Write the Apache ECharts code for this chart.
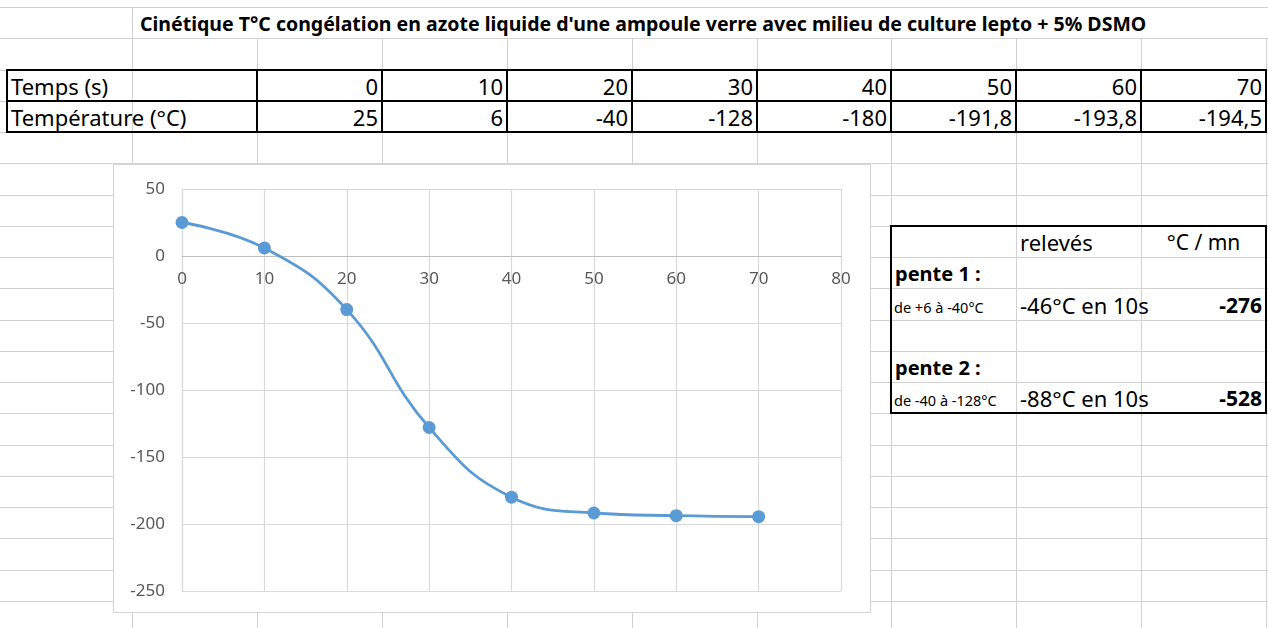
<!DOCTYPE html>
<html>
<head>
<meta charset="utf-8" />
<title>Cinétique T°C congélation</title>
<script src="https://cdn.jsdelivr.net/npm/echarts/dist/echarts.min.js"></script>
<style>
  body { margin: 0; background: #fff; font-family: 'Noto Sans', sans-serif; }
  #sheet { position: relative; width: 1268px; height: 628px; overflow: hidden; }
  .g { position: absolute; background: #d2d2d2; }
  .b { position: absolute; background: #000; }
  .c { position: absolute; display: flex; align-items: flex-end; box-sizing: border-box;
       padding: 0 4px 4px 4px; white-space: nowrap; color: #000; font-size: 22px; line-height: 1; }
  #main { position: absolute; left: 113px; top: 164px; width: 758px; height: 449px;
          box-sizing: border-box; border: 1px solid #d4d4d4; background: #fff; }
</style>
</head>
<body>
<div id="sheet">
  <div id="main"></div>
</div>
<script type="text/javascript">
// données du tableau
var titre = "Cinétique T°C congélation en azote liquide d'une ampoule verre avec milieu de culture lepto + 5% DSMO";
var temps = [0, 10, 20, 30, 40, 50, 60, 70];
var temperature = [25, 6, -40, -128, -180, -191.8, -193.8, -194.5];

// tableau des pentes
var penteNoms = ['pente 1 :', 'pente 2 :'];
var penteDe = ['de +6 à -40°C', 'de -40 à -128°C'];
var penteReleves = ['-46°C en 10s', '-88°C en 10s'];
var penteVitesse = [-276, -528];

var sheet = document.getElementById('sheet');
var cols = [132, 257, 382, 507, 632, 757, 891, 1016, 1141, 1266];
var rows = [];
for (var k = 0; k < 20; k++) rows.push(Math.round(7 + 31.25 * k));

function box(cls, x, y, w, h) {
  var d = document.createElement('div');
  d.className = cls;
  d.style.left = x + 'px'; d.style.top = y + 'px';
  d.style.width = w + 'px'; d.style.height = h + 'px';
  sheet.insertBefore(d, document.getElementById('main'));
  return d;
}
function cell(x1, x2, y1, y2, txt, align, css) {
  var d = document.createElement('div');
  d.className = 'c';
  d.style.left = x1 + 'px'; d.style.top = y1 + 'px';
  d.style.width = (x2 - x1) + 'px'; d.style.height = (y2 - y1) + 'px';
  d.style.justifyContent = align == 'right' ? 'flex-end' : (align == 'center' ? 'center' : 'flex-start');
  if (css) for (var p in css) d.style[p] = css[p];
  d.textContent = txt;
  sheet.appendChild(d);
  return d;
}
function rect(x1, y1, x2, y2) {
  box('b', x1 - 1, y1 - 1, x2 - x1 + 2, 2);
  box('b', x1 - 1, y2 - 1, x2 - x1 + 2, 2);
  box('b', x1 - 1, y1 - 1, 2, y2 - y1 + 2);
  box('b', x2 - 1, y1 - 1, 2, y2 - y1 + 2);
}

// quadrillage gris
rows.forEach(function (y) { box('g', 0, y, 1268, 1); });
box('g', 132, rows[0], 1, rows[1] - rows[0]);
cols.forEach(function (x) { box('g', x, rows[1], 1, 628 - rows[1]); });

// tableau du haut
rect(7, rows[2], 1266, rows[4]);
box('b', 7, rows[3] - 1, 1259, 2);
cols.slice(1).forEach(function (x) { box('b', x - 1, rows[2], 2, rows[4] - rows[2]); });

// tableau des pentes
rect(891, rows[7], 1266, rows[13]);

// titre
var t = cell(132, 1266, rows[0], rows[1], titre, 'left', { fontWeight: 'bold', fontSize: '20px', paddingLeft: '8px', paddingBottom: '4px' });
var span = document.createElement('span'); span.textContent = titre; t.textContent = ''; t.appendChild(span);
t.style.fontSize = (20 * 1007 / span.getBoundingClientRect().width).toFixed(2) + 'px';

cell(7, 257, rows[2], rows[3], 'Temps (s)', 'left');
cell(7, 257, rows[3], rows[4], 'Température (°C)', 'left');
for (var i = 0; i < temps.length; i++) {
  cell(cols[i + 1], cols[i + 2], rows[2], rows[3], String(temps[i]), 'right');
  cell(cols[i + 1], cols[i + 2], rows[3], rows[4], String(temperature[i]).replace('.', ','), 'right');
}

cell(1016, 1141, rows[7], rows[8], 'relevés', 'left');
cell(1141, 1266, rows[7], rows[8], '°C / mn', 'center', { fontSize: '21px' });
for (var j = 0; j < penteNoms.length; j++) {
  var r = 8 + j * 3;
  cell(891, 1016, rows[r], rows[r + 1], penteNoms[j], 'left', { fontWeight: 'bold', fontSize: '20px' });
  cell(891, 1016, rows[r + 1], rows[r + 2], penteDe[j], 'left', { fontSize: '14.5px', paddingBottom: '6px', paddingLeft: '3px' });
  cell(1016, 1141, rows[r + 1], rows[r + 2], penteReleves[j], 'left');
  cell(1141, 1266, rows[r + 1], rows[r + 2], String(penteVitesse[j]), 'right', { fontWeight: 'bold', fontSize: '21px' });
}

// graphique
var yMin = -250, yMax = 50, plotH = 402;
var myChart = echarts.init(document.getElementById('main'));
var option = {
  animation: false,
  grid: { left: 68, top: 24, width: 659, height: plotH, outerBoundsMode: 'none', containLabel: false },
  xAxis: {
    type: 'value', min: 0, max: 80, interval: 10,
    position: 'bottom',
    // axe horizontal placé sur y = 0
    offset: -plotH * (0 - yMin) / (yMax - yMin),
    axisLine: { show: true, onZero: false, lineStyle: { color: '#bfbfbf', width: 1 } },
    axisTick: { show: false },
    axisLabel: { color: '#595959', fontSize: 17, fontFamily: 'Noto Sans', margin: 15 },
    splitLine: { show: true, lineStyle: { color: '#d9d9d9', width: 1.2 } }
  },
  yAxis: {
    type: 'value', min: yMin, max: yMax, interval: 50,
    axisLine: { show: true, onZero: false, lineStyle: { color: '#d9d9d9', width: 1.2 } },
    axisTick: { show: false },
    axisLabel: { color: '#595959', fontSize: 17, fontFamily: 'Noto Sans', margin: 17 },
    splitLine: { show: true, lineStyle: { color: '#d9d9d9', width: 1.2 } }
  },
  series: [{
    type: 'line',
    data: temps.map(function (x, i) { return [x, temperature[i]]; }),
    smooth: 0.45,
    symbol: 'circle',
    symbolSize: 13,
    lineStyle: { color: '#5b9bd5', width: 2.8 },
    itemStyle: { color: '#5b9bd5' }
  }]
};
myChart.setOption(option);
</script>
</body>
</html>
